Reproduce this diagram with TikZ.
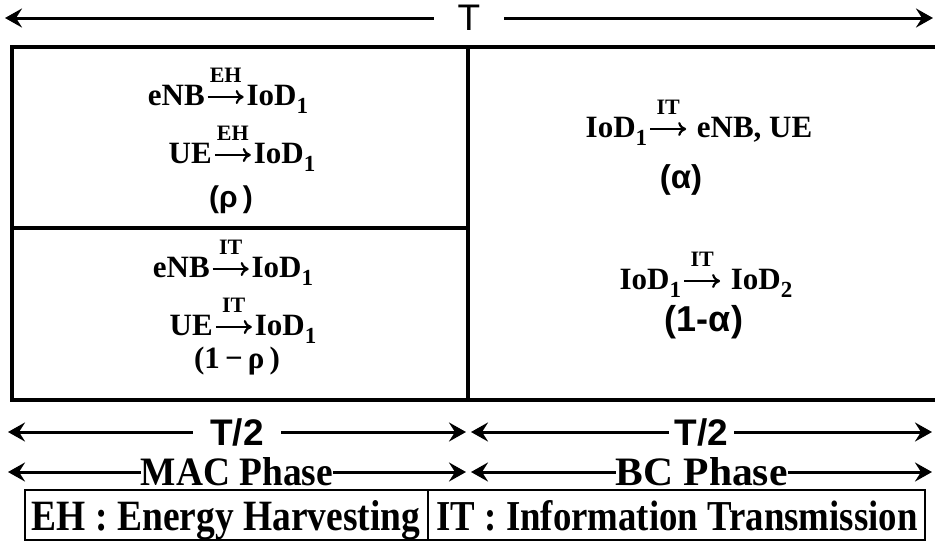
\documentclass[tikz,border=0pt]{standalone}
\usepackage{fontspec}
\setmainfont{Liberation Serif}
\setsansfont{Liberation Sans}
\usetikzlibrary{arrows.meta}
\newcommand\tarr[1]{\tikz[baseline=0pt]{\path (0pt,0pt) -- (42pt,0pt);\draw[line width=2.2pt,-{To[length=8pt,width=14pt]}] (3pt,8pt) -- (39pt,8pt); \node[anchor=base, inner sep=0pt, font=\bfseries\fontsize{22}{22}\selectfont] at (21pt,23pt) {#1};}}
\newcommand\sub[1]{\raisebox{-8pt}{\fontsize{23}{23}\selectfont #1}}
\tikzset{
  chem/.style={anchor=base, inner sep=0pt, font=\bfseries\fontsize{31}{31}\selectfont},
  greek/.style={anchor=base, inner sep=0pt, font=\sffamily\bfseries\fontsize{33}{33}\selectfont},
  dim/.style={line width=3pt, {Stealth[length=17pt,width=19pt,inset=6pt]}-{Stealth[length=17pt,width=19pt,inset=6pt]}},
  dimlbl/.style={fill=white, inner xsep=6pt, inner ysep=0pt},
  frame/.style={line width=3.5pt},
  legend/.style={line width=1.2pt}
}
\begin{document}
\begin{tikzpicture}[x=1pt,y=-1pt]
\useasboundingbox (0,0) rectangle (935,542);
\clip (0,0) rectangle (935,542);
% main frame
\draw[frame] (12,47) rectangle (940,400);
\draw[frame] (468,47) -- (468,400);
\draw[frame] (12,228) -- (468,228);
% texts left top
\node[chem] (l1) at (228,105) {eNB\tarr{EH}IoD\sub1};
\node[chem] (l2) at (242,163) {UE\tarr{EH}IoD\sub1};
\node[greek, font=\sffamily\bfseries\fontsize{30}{30}\selectfont] (l3) at (231,207) {(ρ\,)};
% left bottom
\node[chem] (l4) at (233,277) {eNB\tarr{IT}IoD\sub1};
\node[chem] (l5) at (243,335) {UE\tarr{IT}IoD\sub1};
\node[chem] (l6) at (237,368) {(1\,−\,ρ\,)};
% right
\node[chem] (r1) at (699,137) {IoD\sub1\tarr{IT} eNB, UE};
\node[greek] (r2) at (681,188) {(α)};
\node[chem] (r3) at (706,289) {IoD\sub1\tarr{IT} IoD\sub2};
\node[greek, font=\sffamily\bfseries\fontsize{36}{36}\selectfont] (r4) at (704,331) {(1-α)};
% dimension arrows
\coordinate (tA) at (5,18); \coordinate (tB) at (933,18);
\draw[dim] (tA) -- node[dimlbl, inner xsep=24pt, font=\sffamily\fontsize{37}{37}\selectfont] (tT) {T} (tB);
\coordinate (hA) at (8,432); \coordinate (hB) at (466,432);
\coordinate (hC) at (471,432); \coordinate (hD) at (932,432);
\draw[dim] (hA) -- node[dimlbl, inner xsep=17pt, font=\sffamily\bfseries\fontsize{37}{37}\selectfont] (h1) {T/2} (hB);
\draw[dim] (hC) -- node[dimlbl, inner xsep=6pt, font=\sffamily\bfseries\fontsize{37}{37}\selectfont] (h2) {T/2} (hD);
\coordinate (mA) at (8,472); \coordinate (mB) at (466,472);
\coordinate (mC) at (471,472); \coordinate (mD) at (932,472);
\draw[dim] (mA) -- node[dimlbl, inner xsep=0pt, font=\bfseries] (m1) {\resizebox{192pt}{28pt}{MAC Phase}} (mB);
\draw[dim] (mC) -- node[dimlbl, inner xsep=0pt, font=\bfseries] (m2) {\resizebox{172pt}{28pt}{BC Phase}} (mD);
% legend
\draw[legend] (25,490) rectangle (925,540);
\draw[legend] (428,490) -- (428,540);
\node[anchor=base, inner sep=0pt, font=\bfseries] (e1) at (226,530) {\resizebox{388pt}{30pt}{EH : Energy Harvesting}};
\node[anchor=base, inner sep=0pt, font=\bfseries] (e2) at (677,530) {\resizebox{481pt}{30pt}{IT : Information Transmission}};
\end{tikzpicture}
\end{document}
